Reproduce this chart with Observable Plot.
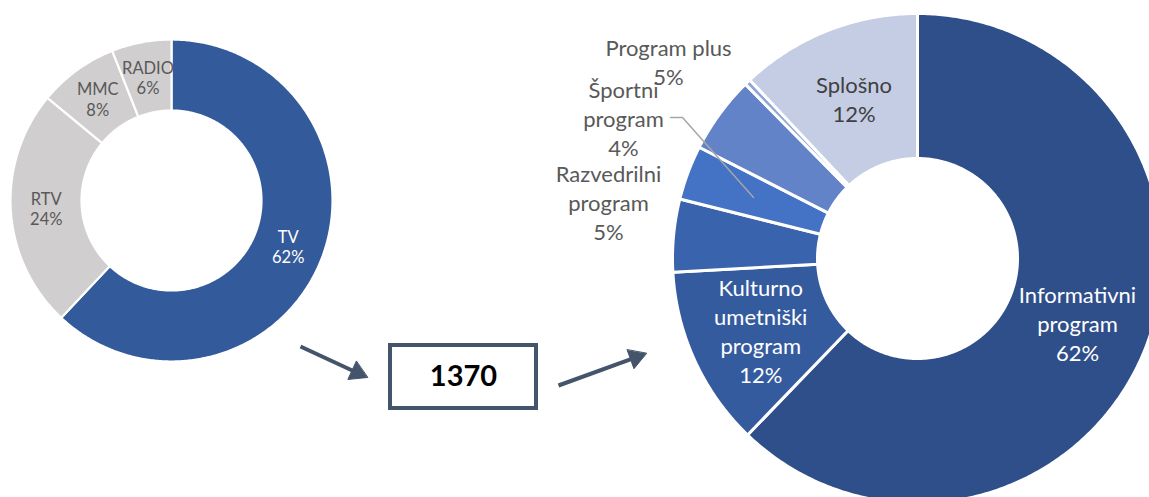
<!DOCTYPE html>
<html><head><meta charset="utf-8">
<script src="https://cdn.jsdelivr.net/npm/d3@7"></script>
<script src="https://cdn.jsdelivr.net/npm/@observablehq/plot@0.6"></script>
<style>html,body{margin:0;padding:0;background:#fff;overflow:hidden}</style>
</head><body><div id="chart"></div>
<script>
// ---- data ----
const mediaCategories = ["TV", "RTV", "MMC", "RADIO"];
const mediaShares = [62, 24, 8, 6];
const mediaColors = ["#335A9B", "#D0CECE", "#D0CECE", "#D0CECE"];
const mediaLabelColors = ["#FFFFFF", "#595959", "#595959", "#595959"];

const programCategories = ["Informativni\nprogram", "Kulturno\numetniški\nprogram", "Razvedrilni\nprogram", "Športni\nprogram", "Program plus", "", "Splošno"];
const programShares = [62.2, 11.9, 4.8, 3.6, 5.1, 0.4, 12.0];
const programColors = ["#2F4F8A", "#355B9F", "#3A63AD", "#4472C4", "#6383C8", "#8EA5D8", "#C5CDE5"];
const programLabelColors = ["#FFFFFF", "#FFFFFF", "#595959", "#595959", "#595959", "#595959", "#404040"];

const totalCount = 1370;

// ---- layout ----
const W = 1149, H = 497;
const leftDonut = {cx: 171, cy: 200, r0: 90, r1: 161, gap: 2.2};
const rightDonut = {cx: 917, cy: 258, r0: 100, r1: 245, gap: 3};
const outsideLabelPos = {2: [608, 201], 3: [623, 117], 4: [668, 61]};
const leader = [[670, 117], [682, 117], [753, 197]];
const box = {x1: 390, x2: 536, y1: 345, y2: 408};
const arrows = [{from: [300, 346], to: [367, 377]}, {from: [558, 385], to: [646, 353]}];
const ink = "#44546A";

function donut(cats, vals, cols, labCols, g) {
  const arcs = d3.pie().sort(null).value(d => d)(vals);
  const pts = [], labels = [];
  arcs.forEach((a, i) => {
    const n = Math.max(2, Math.ceil((a.endAngle - a.startAngle) / 0.01));
    for (let k = 0; k <= n; k++) {
      const t = a.startAngle + (a.endAngle - a.startAngle) * k / n;
      pts.push({id: g.id + i, x: g.cx + g.r1 * Math.sin(t), y: g.cy - g.r1 * Math.cos(t), c: cols[i]});
    }
    for (let k = n; k >= 0; k--) {
      const t = a.startAngle + (a.endAngle - a.startAngle) * k / n;
      pts.push({id: g.id + i, x: g.cx + g.r0 * Math.sin(t), y: g.cy - g.r0 * Math.cos(t), c: cols[i]});
    }
    if (!cats[i]) return;
    const mid = (a.startAngle + a.endAngle) / 2, rm = (g.r0 + g.r1) / 2;
    let x = g.cx + rm * Math.sin(mid), y = g.cy - rm * Math.cos(mid);
    if (g.outside && g.outside[i]) [x, y] = g.outside[i];
    labels.push({x, y, text: cats[i] + "\n" + Math.round(vals[i]) + "%", c: labCols[i]});
  });
  return {pts, labels};
}

const L = donut(mediaCategories, mediaShares, mediaColors, mediaLabelColors, {...leftDonut, id: "L"});
const R = donut(programCategories, programShares, programColors, programLabelColors, {...rightDonut, id: "R", outside: outsideLabelPos});

function head(a) {
  const [x0, y0] = a.from, [x1, y1] = a.to;
  const len = Math.hypot(x1 - x0, y1 - y0), ux = (x1 - x0) / len, uy = (y1 - y0) / len;
  const hl = 17, hw = 10;
  const bx = x1 - ux * hl, by = y1 - uy * hl;
  return {shaft: {x1: x0, y1: y0, x2: bx + ux * 2, y2: by + uy * 2},
    tri: [[x1, y1], [bx - uy * hw, by + ux * hw], [bx + uy * hw, by - ux * hw]]};
}
const heads = arrows.map(head);
const triPts = heads.flatMap((h, i) => h.tri.map(([x, y]) => ({id: i, x, y})));

const chart = Plot.plot({
  width: W, height: H, margin: 0,
  x: {domain: [0, W], range: [0, W], axis: null},
  y: {domain: [0, H], range: [0, H], axis: null},
  color: {type: "identity"},
  style: {fontFamily: "Lato, 'Open Sans', sans-serif", background: "#fff"},
  marks: [
    Plot.line(L.pts, {x: "x", y: "y", z: "id", fill: "c", stroke: "#fff", strokeWidth: leftDonut.gap, curve: "linear-closed"}),
    Plot.line(R.pts, {x: "x", y: "y", z: "id", fill: "c", stroke: "#fff", strokeWidth: rightDonut.gap, curve: "linear-closed"}),
    Plot.line(leader, {x: d => d[0], y: d => d[1], stroke: "#A6A6A6", strokeWidth: 1.5}),
    Plot.text(L.labels, {x: "x", y: "y", text: "text", fill: "c", fontSize: 16.5, lineHeight: 1.24}),
    Plot.text(R.labels, {x: "x", y: "y", text: "text", fill: "c", fontSize: 22, lineHeight: 1.32}),
    Plot.link(heads.map(h => h.shaft), {x1: "x1", y1: "y1", x2: "x2", y2: "y2", stroke: ink, strokeWidth: 4}),
    Plot.line(triPts, {x: "x", y: "y", z: "id", fill: ink, stroke: ink, strokeWidth: 1, curve: "linear-closed"}),
    Plot.rect([box], {x1: "x1", x2: "x2", y1: "y1", y2: "y2", fill: "#fff", stroke: ink, strokeWidth: 4}),
    Plot.text([totalCount], {x: (box.x1 + box.x2) / 2, y: (box.y1 + box.y2) / 2, text: d => String(d), fontSize: 29, fontWeight: "bold", fill: "#000"})
  ]
});
document.getElementById("chart").appendChild(chart);
</script>
</body></html>
